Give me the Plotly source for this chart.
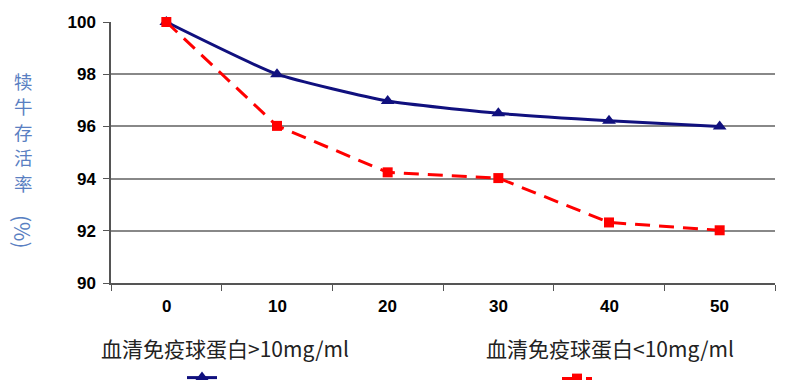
import plotly.graph_objects as go

categories = ["0", "10", "20", "30", "40", "50"]
high_igg = [100, 98, 96.97, 96.5, 96.22, 96.0]
low_igg = [100, 96.02, 94.24, 94.02, 92.32, 92.02]
series_names = ["血清免疫球蛋白>10mg/ml", "血清免疫球蛋白<10mg/ml"]
y_title_chars = ["犊", "牛", "存", "活", "率"]
y_title_unit = "(%)"
y_ticks = [90, 92, 94, 96, 98, 100]

# page body has an 8px offset; plot area on screen: x 111..775, y 22..283
OFF = 8
PL, PR, PT, PB = 111, 775, 22, 283
def px(x):
    return (x - PL) / (PR - PL)
def py(y):
    return (PB - y) / (PB - PT)

fig = go.Figure()
fig.add_trace(go.Scatter(
    x=categories, y=high_igg, mode="lines+markers", name=" ",
    line=dict(color="#10107e", width=3, shape="spline", smoothing=0.5),
    marker=dict(symbol="triangle-up", size=12, color="#10107e"),
    legend="legend", cliponaxis=False))
fig.add_trace(go.Scatter(
    x=categories, y=low_igg, mode="lines+markers", name=" ",
    line=dict(color="#ff0000", width=3, dash="15px,9px"),
    marker=dict(symbol="square", size=10, color="#ff0000"),
    legend="legend2", cliponaxis=False))

fig.update_layout(
    width=797, height=380,
    margin=dict(l=PL - OFF, r=797 - (PR - OFF), t=PT - OFF, b=380 - (PB - OFF), autoexpand=False),
    plot_bgcolor="white", paper_bgcolor="white",
    showlegend=True,
    legend=dict(x=px(182), y=py(378), xanchor="left", yanchor="middle",
                bgcolor="rgba(0,0,0,0)", font=dict(size=14)),
    legend2=dict(x=px(557), y=py(379), xanchor="left", yanchor="middle",
                 bgcolor="rgba(0,0,0,0)", font=dict(size=14)),
    xaxis=dict(type="category", range=[-0.5, 5.5], tickson="boundaries",
               ticks="outside", ticklen=6, tickcolor="#555", showline=True,
               linecolor="#555", linewidth=1.5, showgrid=False, showticklabels=False),
    yaxis=dict(range=[90, 100], tickvals=y_ticks, ticks="outside", ticklen=6,
               tickcolor="#555", showline=True, linecolor="#555", linewidth=1.5,
               showgrid=True, gridcolor="#888888", gridwidth=1.5, zeroline=False,
               ticklabelstandoff=4,
               tickfont=dict(family="Liberation Sans", size=17, color="black", weight="bold")),
)

# category labels, placed on the category axis (by category index)
for i, c in enumerate(categories):
    fig.add_annotation(text=c, xref="x", yref="paper", x=i, y=py(307),
                       xanchor="center", yanchor="middle", showarrow=False, borderpad=0,
                       font=dict(family="Liberation Sans", size=17, color="black", weight="bold"))

for i, ch in enumerate(y_title_chars):
    fig.add_annotation(text=ch, xref="paper", yref="paper",
                       x=px(23), y=py(81 + 25.5 * i), xanchor="center", yanchor="middle",
                       showarrow=False, borderpad=0,
                       font=dict(family="Noto Sans CJK SC", size=18.5, color="#5a7fc2"))
fig.add_annotation(text=y_title_unit, xref="paper", yref="paper", textangle=90,
                   x=px(23), y=py(232), xanchor="center", yanchor="middle",
                   showarrow=False, borderpad=0,
                   font=dict(family="Noto Sans CJK SC", size=21, color="#5a7fc2"))
fig.add_annotation(text=series_names[0], xref="paper", yref="paper",
                   x=px(225), y=py(348), xanchor="center", yanchor="middle",
                   showarrow=False, font=dict(family="Noto Sans CJK SC", size=21, color="#222"))
fig.add_annotation(text=series_names[1], xref="paper", yref="paper",
                   x=px(610), y=py(348), xanchor="center", yanchor="middle",
                   showarrow=False, font=dict(family="Noto Sans CJK SC", size=21, color="#222"))

fig.write_html("out.html")
